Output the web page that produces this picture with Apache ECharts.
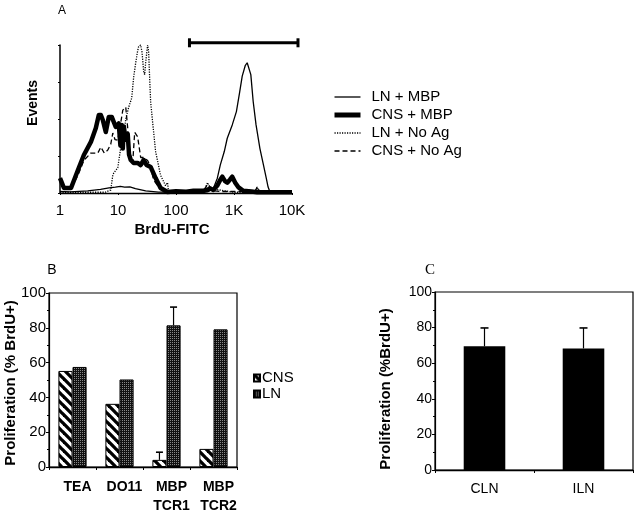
<!DOCTYPE html>
<html><head><meta charset="utf-8">
<script src="https://cdn.jsdelivr.net/npm/echarts@6/dist/echarts.min.js"></script>
<style>html,body{margin:0;padding:0;background:#fff}#c{width:640px;height:516px}</style>
</head><body><div id="c"></div>
<script>
// ---------- Panel A : histogram (BrdU-FITC, log scale) ----------
const histTickLabels = {1:'1', 10:'10', 100:'100', 1000:'1K', 10000:'10K'};
const seriesNamesA = ['LN + MBP', 'CNS + MBP', 'LN + No Ag', 'CNS + No Ag'];

const lnMbpX = [1, 1.5, 3, 5, 7, 9, 11, 13, 16, 20, 30, 50, 100, 200, 350, 440, 516, 581, 680, 765, 933, 1100, 1250, 1386, 1560, 1688, 1800, 1950, 2139, 2400, 2800, 3177, 3600, 3872, 4189, 10000];
const lnMbpY = [1, 0.8, 1.5, 2.5, 3.5, 4, 4.5, 4, 4.2, 3, 1.5, 0.6, 0.5, 0.6, 0.8, 3, 10, 19, 28, 37, 46, 55, 68, 79, 86, 88, 87, 80, 62, 46, 30, 20, 10, 4, 0.5, 0.3];

const cnsMbpX = [1, 1.05, 1.17, 1.55, 2.04, 2.58, 3.41, 4.15, 4.67, 5.06, 5.47, 6.16, 6.94, 7.8, 9.15, 10.3, 11, 11.6, 12.1, 12.6, 13.5, 14.7, 15.5, 16.6, 18.6, 21.8, 24.6, 27.7, 31, 36.5, 44.5, 54.2, 71.5, 100, 150, 200, 300, 391, 440, 516, 581, 628, 700, 765, 850, 933, 1050, 1183, 1442, 2000, 2506, 4000, 10000];
const cnsMbpY = [10, 8, 3.4, 3.4, 15.5, 25.7, 34.5, 43.9, 52.7, 52.7, 49.3, 41.2, 51.4, 51.4, 44.6, 47, 32, 46, 30, 45, 36, 40, 26, 22.3, 20.3, 20.3, 18.9, 22.3, 19, 17.6, 10.1, 3.4, 0.7, 1.2, 0.8, 1.5, 1.5, 3, 2, 5, 9, 11, 8, 7, 9, 11, 7, 4, 1.5, 1, 0.5, 0.5, 0.5];

const lnNoAgX = [1, 3, 6, 7.5, 8.13, 8.45, 9.9, 10.3, 11.1, 12.1, 13.6, 15.3, 17.2, 18.6, 20.2, 21.8, 22.7, 24.6, 26, 27.7, 28.8, 30, 32.4, 33.7, 35.1, 36.5, 39.5, 44.5, 54.2, 66, 71.5, 74.3, 100, 300, 350, 391, 1000, 2300, 2506, 2700, 10000];
const lnNoAgY = [0.5, 0.5, 0.5, 2, 12, 13.5, 17, 18, 30, 33, 50, 58, 64, 78, 88, 96, 99, 100, 95, 82, 80, 88, 100, 96, 78, 62, 48, 28, 12, 5, 7, 1, 0.5, 0.5, 7, 3, 0.5, 0.5, 4, 0.5, 0.3];

const cnsNoAgX = [1, 1.17, 1.55, 2.04, 2.58, 3.41, 4.49, 5.06, 5.8, 6.67, 7.5, 8.13, 8.9, 9.9, 11, 12.1, 13.6, 14.7, 15.3, 17.9, 19.4, 21.8, 24.6, 27.7, 32.4, 36.5, 41.1, 50.1, 61, 100, 200, 300, 350, 391, 440, 600, 1000, 2300, 2506, 2800, 10000];
const cnsNoAgY = [8, 3, 3, 12, 22, 27, 27, 31, 27, 29, 33, 40.5, 36, 35.8, 46, 56, 58, 44, 29, 20, 41, 38, 24, 24, 22, 17.6, 8.8, 4, 0.7, 0.7, 0.7, 1.5, 6, 4, 1.5, 1, 1, 1, 4, 0.8, 0.5];

const gateRange = [164, 13200];
const gateLevel = 101.5;

// ---------- Panel B : proliferation by TCR ----------
const catsB = ['TEA', 'DO11', 'MBP\nTCR1', 'MBP\nTCR2'];
const cnsB = [55.2, 36.3, 4.1, 10.4];
const lnB = [57.5, 50.3, 81.4, 79.1];
const cnsErrB = [0, 0, 4.4, 0];
const lnErrB = [0, 0, 10.5, 0];

// ---------- Panel C : CLN vs ILN ----------
const catsC = ['CLN', 'ILN'];
const valC = [69.5, 68.3];
const errC = [10.3, 11.5];

const FONT = '"Liberation Sans", Arial, Helvetica, sans-serif';

function hatchPattern() {
  const c = document.createElement('canvas');
  c.width = 9; c.height = 9;
  const g = c.getContext('2d');
  g.fillStyle = '#fff'; g.fillRect(0, 0, 9, 9);
  g.strokeStyle = '#000'; g.lineWidth = 3.3;
  [-9, 0, 9].forEach(k => { g.beginPath(); g.moveTo(k - 2, -2); g.lineTo(k + 11, 11); g.stroke(); });
  return {image: c, repeat: 'repeat'};
}
function stipplePattern() {
  const c = document.createElement('canvas');
  c.width = 2; c.height = 2;
  const g = c.getContext('2d');
  g.fillStyle = '#111'; g.fillRect(0, 0, 2, 2);
  g.fillStyle = '#888'; g.fillRect(0, 0, 1, 1);
  return {image: c, repeat: 'repeat'};
}
const hatch = hatchPattern();
const stipple = stipplePattern();

const zip = (xs, ys) => xs.map((x, i) => [x, ys[i]]);

function errRender(vals, errs, side, frac, cap) {
  return function (params, api) {
    const i = api.value(0);
    const e = errs[i];
    if (!e) return null;
    const band = api.size([1, 0])[0];
    const off = side * band * frac / 2;
    const p0 = api.coord([i, vals[i]]);
    const p1 = api.coord([i, vals[i] + e]);
    const x = p0[0] + off;
    return {type: 'group', children: [
      {type: 'line', shape: {x1: x, y1: p0[1], x2: x, y2: p1[1]}, style: {stroke: '#000', lineWidth: 1.2}},
      {type: 'line', shape: {x1: x - cap, y1: p1[1], x2: x + cap, y2: p1[1]}, style: {stroke: '#000', lineWidth: 1.6}}
    ]};
  };
}

const lineBase = {type: 'line', xAxisIndex: 0, yAxisIndex: 0, showSymbol: false, symbol: 'none', clip: false, color: '#000'};
const blackAxis = {lineStyle: {color: '#000', width: 1.3}};
const hiddenSymbol = {opacity: 0, borderWidth: 0};

const option = {
  animation: false,
  backgroundColor: '#fff',
  textStyle: {fontFamily: FONT, color: '#000'},
  grid: [
    {left: 60, right: 348, top: 45, bottom: 323},
    {left: 49, right: 403, top: 293, bottom: 46, show: true, borderColor: '#000', borderWidth: 1.2, backgroundColor: 'transparent'},
    {left: 435, right: 7, top: 292, bottom: 46, show: true, borderColor: '#000', borderWidth: 1.2, backgroundColor: 'transparent'}
  ],
  xAxis: [
    {type: 'log', gridIndex: 0, logBase: 10, min: 1, max: 10000,
     axisLine: blackAxis, axisTick: {show: true, length: 2, lineStyle: {color: '#000'}}, splitLine: {show: false},
     axisLabel: {fontSize: 15, color: '#000', margin: 10, formatter: v => histTickLabels[Math.round(v)] || ''}},
    {type: 'category', gridIndex: 1, data: catsB, axisLine: blackAxis,
     axisTick: {show: true, length: 3, alignWithLabel: false, lineStyle: {color: '#000'}},
     axisLabel: {interval: 0, fontSize: 14, fontWeight: 'bold', color: '#000', margin: 11, lineHeight: 19, padding: [0, 0, 0, 10]}},
    {type: 'category', gridIndex: 2, data: catsC, axisLine: blackAxis,
     axisTick: {show: true, length: 3, alignWithLabel: false, lineStyle: {color: '#000'}},
     axisLabel: {interval: 0, fontSize: 14, color: '#000', margin: 12}}
  ],
  yAxis: [
    {type: 'value', gridIndex: 0, min: 0, max: 100, interval: 25,
     axisLine: {show: true, lineStyle: {color: '#000', width: 1.5}}, axisTick: {show: true, length: 2, lineStyle: {color: '#000'}},
     axisLabel: {show: false}, splitLine: {show: false}},
    {type: 'value', gridIndex: 1, min: 0, max: 100, interval: 20,
     axisLine: {show: true, lineStyle: {color: '#000', width: 1.2}}, axisTick: {show: true, length: 3, lineStyle: {color: '#000'}},
     minorTick: {show: true, splitNumber: 2, length: 2, lineStyle: {color: '#000'}},
     axisLabel: {fontSize: 15, color: '#000', margin: 3}, splitLine: {show: false}},
    {type: 'value', gridIndex: 2, min: 0, max: 100, interval: 20,
     axisLine: {show: true, lineStyle: {color: '#000', width: 1.2}}, axisTick: {show: true, length: 3, lineStyle: {color: '#000'}},
     minorTick: {show: true, splitNumber: 2, length: 2, lineStyle: {color: '#000'}},
     axisLabel: {fontSize: 14, color: '#000', margin: 3}, splitLine: {show: false}}
  ],
  legend: [
    {orient: 'vertical', left: 332, top: 88, padding: 0, itemWidth: 26, itemHeight: 18, itemGap: 0,
     textStyle: {fontSize: 15, color: '#000', lineHeight: 18, padding: [0, 0, 0, 6], fontFamily: FONT},
     data: [
       {name: seriesNamesA[0], itemStyle: hiddenSymbol, lineStyle: {width: 1.3}},
       {name: seriesNamesA[1], itemStyle: hiddenSymbol, lineStyle: {width: 5}},
       {name: seriesNamesA[2], itemStyle: hiddenSymbol, lineStyle: {width: 1.3}},
       {name: seriesNamesA[3], itemStyle: hiddenSymbol, lineStyle: {width: 1.3}}
     ]},
    {orient: 'vertical', left: 253, top: 370, padding: 0, itemWidth: 6, itemHeight: 7, itemGap: 0, icon: 'rect',
     textStyle: {fontSize: 15, color: '#000', lineHeight: 16, padding: [0, 0, 0, -3], fontFamily: FONT},
     data: ['CNS', 'LN']}
  ],
  series: [
    Object.assign({}, lineBase, {name: seriesNamesA[0], data: zip(lnMbpX, lnMbpY), lineStyle: {color: '#000', width: 1.3}, z: 4}),
    Object.assign({}, lineBase, {name: seriesNamesA[1], data: zip(cnsMbpX, cnsMbpY), lineStyle: {color: '#000', width: 4.5, join: 'round'}, z: 3}),
    Object.assign({}, lineBase, {name: seriesNamesA[2], data: zip(lnNoAgX, lnNoAgY), lineStyle: {color: '#000', width: 1.3, type: [1.2, 1.3]}, z: 4}),
    Object.assign({}, lineBase, {name: seriesNamesA[3], data: zip(cnsNoAgX, cnsNoAgY), lineStyle: {color: '#000', width: 1.3, type: [5, 3]}, z: 4}),
    {type: 'custom', xAxisIndex: 0, yAxisIndex: 0, clip: false, silent: true,
     encode: {x: [0, 1], y: 2},
     data: [[gateRange[0], gateRange[1], gateLevel]],
     renderItem: function (params, api) {
       const a = api.coord([api.value(0), api.value(2)]);
       const b = api.coord([api.value(1), api.value(2)]);
       return {type: 'group', children: [
         {type: 'line', shape: {x1: a[0], y1: a[1], x2: b[0], y2: b[1]}, style: {stroke: '#000', lineWidth: 3}},
         {type: 'line', shape: {x1: a[0] + 1, y1: a[1] - 4.5, x2: a[0] + 1, y2: a[1] + 4.5}, style: {stroke: '#000', lineWidth: 3}},
         {type: 'line', shape: {x1: b[0] - 1, y1: b[1] - 4.5, x2: b[0] - 1, y2: b[1] + 4.5}, style: {stroke: '#000', lineWidth: 3}}
       ]};
     }},
    {name: 'CNS', type: 'bar', xAxisIndex: 1, yAxisIndex: 1, data: cnsB, barGap: '0%', barCategoryGap: '40%',
     itemStyle: {color: hatch, borderColor: '#000', borderWidth: 1}},
    {name: 'LN', type: 'bar', xAxisIndex: 1, yAxisIndex: 1, data: lnB, barGap: '0%', barCategoryGap: '40%',
     itemStyle: {color: stipple, borderColor: '#000', borderWidth: 1}},
    {type: 'custom', xAxisIndex: 1, yAxisIndex: 1, silent: true, z: 5,
     data: cnsB.map((v, i) => [i, v + cnsErrB[i]]), renderItem: errRender(cnsB, cnsErrB, -1, 0.3, 3.5)},
    {type: 'custom', xAxisIndex: 1, yAxisIndex: 1, silent: true, z: 5,
     data: lnB.map((v, i) => [i, v + lnErrB[i]]), renderItem: errRender(lnB, lnErrB, 1, 0.3, 3.5)},
    {name: 'C', type: 'bar', xAxisIndex: 2, yAxisIndex: 2, data: valC, barCategoryGap: '58%',
     itemStyle: {color: '#000'}},
    {type: 'custom', xAxisIndex: 2, yAxisIndex: 2, silent: true, z: 5,
     data: valC.map((v, i) => [i, v + errC[i]]), renderItem: errRender(valC, errC, 0, 0, 4)}
  ],
  graphic: [
    {type: 'text', x: 62, y: 11, style: {text: 'A', font: '12px ' + FONT, fill: '#000', textAlign: 'center', textVerticalAlign: 'middle'}},
    {type: 'text', x: 52, y: 270, style: {text: 'B', font: '14px ' + FONT, fill: '#000', textAlign: 'center', textVerticalAlign: 'middle'}},
    {type: 'text', x: 430, y: 270, style: {text: 'C', font: '15px "Liberation Serif", "Times New Roman", serif', fill: '#000', textAlign: 'center', textVerticalAlign: 'middle'}},
    {type: 'text', x: 33, y: 103, rotation: Math.PI / 2, style: {text: 'Events', font: 'bold 14px ' + FONT, fill: '#000', textAlign: 'center', textVerticalAlign: 'middle'}},
    {type: 'text', x: 172, y: 230, style: {text: 'BrdU-FITC', font: 'bold 15px ' + FONT, fill: '#000', textAlign: 'center', textVerticalAlign: 'middle'}},
    {type: 'text', x: 11, y: 383, rotation: Math.PI / 2, style: {text: 'Proliferation (% BrdU+)', font: 'bold 15px ' + FONT, fill: '#000', textAlign: 'center', textVerticalAlign: 'middle'}},
    {type: 'text', x: 386, y: 389, rotation: Math.PI / 2, style: {text: 'Proliferation (%BrdU+)', font: 'bold 15px ' + FONT, fill: '#000', textAlign: 'center', textVerticalAlign: 'middle'}}
  ]
};

const chart = echarts.init(document.getElementById('c'), null, {renderer: 'canvas'});
chart.setOption(option);
</script>
</body></html>
